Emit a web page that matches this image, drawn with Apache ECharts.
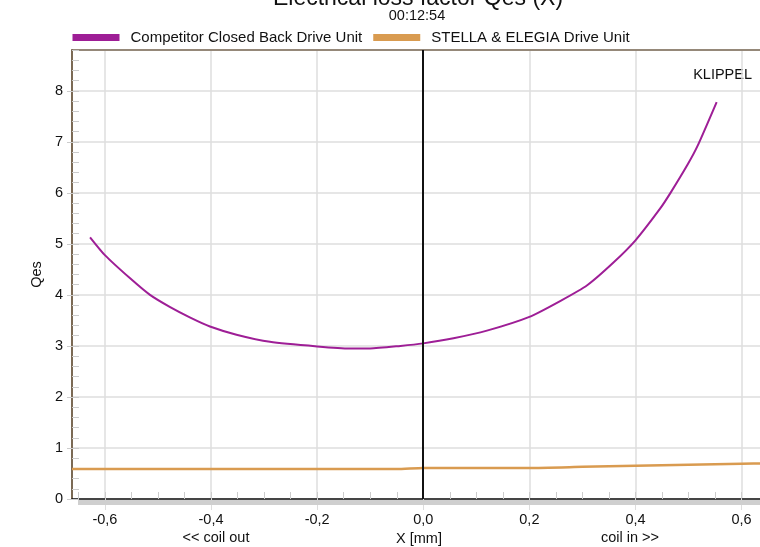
<!DOCTYPE html>
<html>
<head>
<meta charset="utf-8">
<script src="https://cdn.jsdelivr.net/npm/echarts@6/dist/echarts.min.js"></script>
<style>
  html, body { margin: 0; padding: 0; background: #fff; }
  #chart { width: 760px; height: 547px; }
</style>
</head>
<body>
<div id="chart"></div>
<script>
// Qes over excursion X [mm]
const competitorX = [-0.628, -0.6, -0.553, -0.515, -0.477, -0.44, -0.402, -0.352, -0.289, -0.2, -0.138, -0.1, -0.043, 0, 0.057, 0.12, 0.2, 0.258, 0.309, 0.359, 0.4, 0.447, 0.466, 0.498, 0.517, 0.553];
const competitorQes = [5.13, 4.78, 4.33, 4.0, 3.76, 3.56, 3.38, 3.22, 3.08, 2.99, 2.95, 2.95, 3.0, 3.05, 3.15, 3.3, 3.57, 3.88, 4.19, 4.64, 5.07, 5.7, 6.0, 6.55, 6.92, 7.78];
const stellaX = [-0.662, -0.4, -0.2, -0.05, 0, 0.2, 0.3, 0.4, 0.5, 0.6, 0.646];
const stellaQes = [0.59, 0.59, 0.59, 0.59, 0.61, 0.61, 0.63, 0.65, 0.67, 0.69, 0.7];
const seriesNames = ["Competitor Closed Back Drive Unit", "STELLA & ELEGIA Drive Unit"];

const font = "'Liberation Sans', Arial, sans-serif";
const zip = (xs, ys) => xs.map((x, i) => [x, ys[i]]);
const xMin = -0.662;
const xMax = 0.646;

let myChart = echarts.init(document.getElementById("chart"));
let option = {
  animation: false,
  textStyle: { fontFamily: font },
  legend: {
    left: 72.5,
    top: 30,
    padding: 0,
    icon: "rect",
    itemWidth: 47,
    itemHeight: 7,
    itemGap: 11,
    textStyle: { color: "#111", fontSize: 15, fontFamily: font, padding: [0, 0, 0, 6] },
    data: seriesNames,
  },
  grid: [
    { left: 72, right: -6, top: 50, bottom: 48, outerBoundsMode: "none" },
    { left: 78.4, right: 18.3, top: 50, bottom: 48, outerBoundsMode: "none" },
  ],
  xAxis: [
    {
      type: "value",
      min: xMin,
      max: xMax,
      splitNumber: 6,
      name: "X [mm]",
      nameLocation: "middle",
      nameGap: 32,
      nameTextStyle: { color: "#111", fontSize: 14.5, fontFamily: font },
      axisLine: { onZero: false, lineStyle: { color: "#111", width: 1.5 } },
      axisTick: { show: true, inside: false, length: 11, lineStyle: { color: "#ddd" } },
      axisLabel: {
        color: "#111",
        fontSize: 14.5,
        margin: 13,
        showMinLabel: false,
        showMaxLabel: false,
        formatter: (v) => v.toFixed(1).replace(".", ","),
      },
      splitLine: { show: true, lineStyle: { color: "#dedede", width: 1.5 } },
    },
    {
      type: "value",
      gridIndex: 1,
      min: -0.65,
      max: 0.6,
      interval: 0.05,
      axisLine: { show: false, onZero: false },
      axisTick: { show: true, inside: true, length: 7, lineStyle: { color: "#ccc" } },
      axisLabel: { show: false },
      splitLine: { show: false },
    },
    {
      // top frame line
      type: "value",
      position: "top",
      min: xMin,
      max: xMax,
      axisLine: { show: true, onZero: false, lineStyle: { color: "#7b6a55", width: 1.5 } },
      axisTick: { show: false },
      axisLabel: { show: false },
      splitLine: { show: false },
    },
  ],
  yAxis: [
    {
      type: "value",
      min: 0,
      max: 8.8,
      interval: 1,
      name: "Qes",
      nameLocation: "middle",
      nameGap: 27,
      nameTextStyle: { color: "#111", fontSize: 14.5, fontFamily: font },
      axisLine: { show: true, onZero: false, lineStyle: { color: "#7b6a55", width: 2 } },
      axisTick: { show: true, inside: false, length: 5, lineStyle: { color: "#ccc" } },
      axisLabel: { color: "#111", fontSize: 14.5, margin: 9, showMaxLabel: false },
      splitLine: { show: true, lineStyle: { color: "#dedede", width: 1.5 } },
    },
    {
      type: "value",
      position: "left",
      min: 0,
      max: 8.8,
      interval: 0.2,
      axisLine: { show: false, onZero: false },
      axisTick: { show: true, inside: true, length: 7, lineStyle: { color: "#ccc" } },
      axisLabel: { show: false },
      splitLine: { show: false },
    },
    { type: "value", gridIndex: 1, show: false, min: 0, max: 8.8 },
  ],
  graphic: [
    { type: "rect", left: 78, top: 500, shape: { width: 700, height: 5 }, style: { fill: "#cfcfcf" }, z: 1 },
    { type: "text", x: 418, y: -1, style: { text: "Electrical loss factor Qes (X)", fontSize: 23, fontFamily: font, fill: "#111", align: "center", verticalAlign: "middle" } },
    { type: "text", x: 417, y: 16, style: { text: "00:12:54", fontSize: 14.5, fontFamily: font, fill: "#111", align: "center", verticalAlign: "middle" } },
    { type: "text", x: 752, y: 75, style: { text: "KLIPPEL", fontSize: 14.5, fontFamily: font, fill: "#111", align: "right", verticalAlign: "middle" } },
    { type: "text", x: 216, y: 538, style: { text: "<< coil out", fontSize: 14.5, fontFamily: font, fill: "#111", align: "center", verticalAlign: "middle" } },
    { type: "text", x: 630, y: 538, style: { text: "coil in >>", fontSize: 14.5, fontFamily: font, fill: "#111", align: "center", verticalAlign: "middle" } },
  ],
  series: [
    {
      name: seriesNames[0],
      type: "line",
      smooth: 0.2,
      showSymbol: false,
      data: zip(competitorX, competitorQes),
      itemStyle: { color: "#9e1e96" },
      lineStyle: { width: 2, color: "#9e1e96" },
      markLine: {
        silent: true,
        symbol: "none",
        label: { show: false },
        lineStyle: { color: "#111", width: 2, type: "solid" },
        data: [{ xAxis: 0 }],
      },
    },
    {
      name: seriesNames[1],
      type: "line",
      smooth: 0.2,
      showSymbol: false,
      data: zip(stellaX, stellaQes),
      itemStyle: { color: "#d99b50" },
      lineStyle: { width: 2.5, color: "#d99b50" },
    },
  ],
};
myChart.setOption(option);
</script>
</body>
</html>
